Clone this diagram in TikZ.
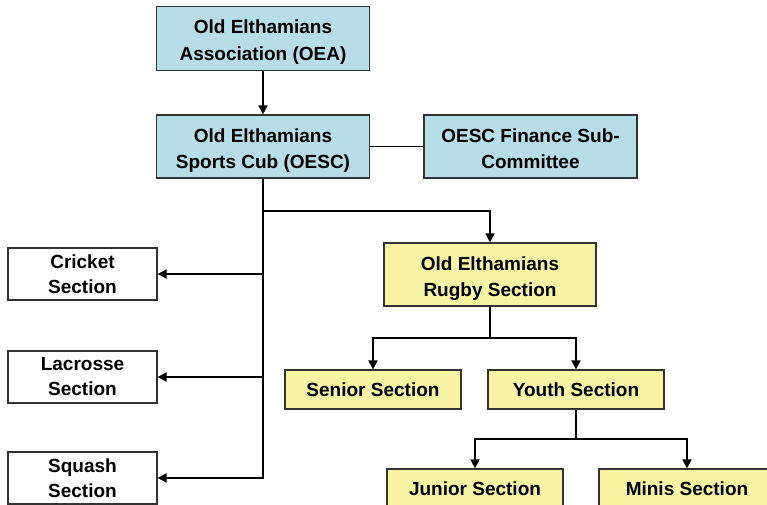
\documentclass[tikz,border=0pt]{standalone}
\usepackage{fontspec}
\setmainfont{Liberation Sans}
\usetikzlibrary{arrows.meta}
\definecolor{oeablue}{HTML}{B7DDE8}
\definecolor{rugyel}{HTML}{F7F4A4}
\definecolor{edgegr}{HTML}{333333}

\begin{document}
\begin{tikzpicture}[x=1pt, y=-1pt, >={Triangle[length=9pt,width=9pt]},
	every node/.style={font=\bfseries\fontsize{19}{25}\selectfont, align=center, inner sep=0pt},
	clubbox/.style={draw=edgegr, line width=1.2pt, fill=oeablue, minimum width=213pt, minimum height=63pt,
		font=\bfseries\fontsize{19}{26.5}\selectfont, text height=44pt, text depth=0pt},
	secbox/.style={draw=edgegr, line width=1.2pt, fill=white, minimum width=149pt, minimum height=52pt},
	rugbox/.style={draw=edgegr, line width=1.2pt, fill=rugyel, minimum width=176pt, minimum height=39pt},
	link/.style={line width=1.8pt}]
		
		\clip (0,0) rectangle (767,505);
		
		% club level
		\node[clubbox, minimum height=64pt] (oea) at (263,38.5) {Old Elthamians\\Association (OEA)};
		\node[clubbox] (oesc) at (263,146.5) {Old Elthamians\\Sports Cub (OESC)};
		\node[clubbox] (fin) at (530.5,146.5) {OESC Finance Sub-\\Committee};
		
		% other sections
		\node[secbox] (cricket) at (82.5,274) {Cricket\\Section};
		\node[secbox] (lacrosse) at (82.5,377) {Lacrosse\\Section};
		\node[secbox] (squash) at (82.5,478) {Squash\\Section};
		
		% rugby
		\node[clubbox, fill=rugyel, minimum width=212pt] (rugby) at (490,274.5) {Old Elthamians\\Rugby Section};
		\node[rugbox] (senior) at (373,389.5) {Senior Section};
		\node[rugbox] (youth) at (576,389.5) {Youth Section};
		\node[rugbox] (junior) at (475,488.5) {Junior Section};
		\node[rugbox] (minis) at (687,488.5) {Minis Section};
		
		\coordinate (split) at (263,211);
		\coordinate (rsplit) at (490,338);
		\coordinate (ysplit) at (576,439);
		
		\draw[link,->] (oea) -- (oesc);
		\draw[link] (oesc) -- (fin);
		
		\draw[link,->] (oesc.south) |- (squash.east);
		\draw[link,->] (oesc.south |- cricket.east) -- (cricket.east);
		\draw[link,->] (oesc.south |- lacrosse.east) -- (lacrosse.east);
		\draw[link,->] (split) -| (rugby.north);
		
		\draw[link] (rugby.south) -- (rsplit);
		\draw[link,->] (rsplit) -| (senior.north);
		\draw[link,->] (rsplit) -| (youth.north);
		
		\draw[link] (youth.south) -- (ysplit);
		\draw[link,->] (ysplit) -| (junior.north);
		\draw[link,->] (ysplit) -| (minis.north);
		
\end{tikzpicture}
\end{document}
